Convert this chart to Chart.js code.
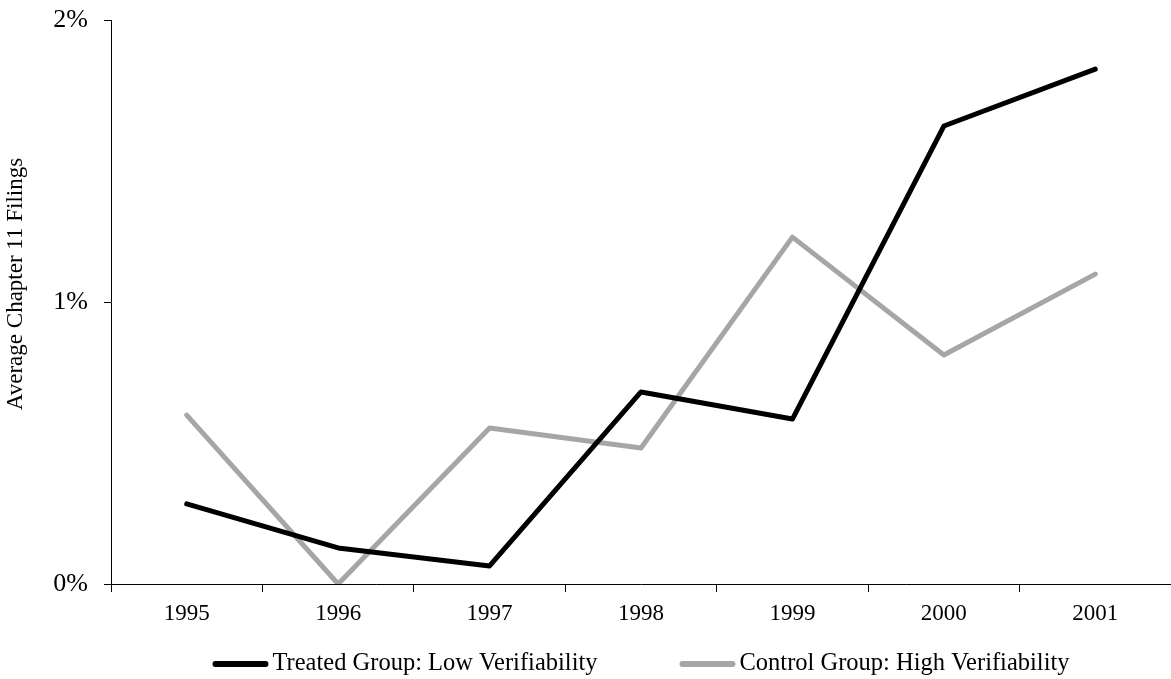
<!DOCTYPE html>
<html><head><meta charset="utf-8">
<script src="https://cdn.jsdelivr.net/npm/chart.js@4"></script>
<style>html,body{margin:0;padding:0;background:#fff}#wrap{width:1171px;height:679px}</style>
</head><body><div id="wrap"><canvas id="c" width="1171" height="679"></canvas></div>
<script>
const years = ['1995','1996','1997','1998','1999','2000','2001'];
const treated = [0.284, 0.128, 0.064, 0.681, 0.585, 1.624, 1.826];
const control = [0.599, 0.0, 0.553, 0.482, 1.230, 0.812, 1.099];
const yTicks = [0, 1, 2];
const seriesNames = ['Treated Group: Low Verifiability', 'Control Group: High Verifiability'];
const yTitle = 'Average Chapter 11 Filings';
const FONT = "'Liberation Serif', 'DejaVu Serif', serif";

const extrasPlugin = {
  id: 'extras',
  afterDraw(chart) {
    const ctx = chart.ctx;
    const ds = chart.data.datasets;
    ctx.save();
    ctx.font = '23px ' + FONT;
    ctx.fillStyle = '#000';
    ctx.textAlign = 'center';
    ctx.textBaseline = 'middle';
    ctx.translate(16, 284);
    ctx.rotate(-Math.PI / 2);
    ctx.fillText(yTitle, 0, 0);
    ctx.restore();

    ctx.save();
    ctx.font = '24.5px ' + FONT;
    const lineLen = 56, gap = 4, itemGap = 82;
    const widths = ds.map(d => lineLen + gap + ctx.measureText(d.label).width);
    const total = widths.reduce((a, b) => a + b, 0) + itemGap * (ds.length - 1);
    const ca = chart.chartArea;
    let x = (ca.left + ca.right) / 2 - total / 2;
    const y = 664;
    ds.forEach((d, i) => {
      ctx.strokeStyle = d.borderColor;
      ctx.lineWidth = 6;
      ctx.lineCap = 'round';
      ctx.beginPath();
      ctx.moveTo(x + 3, y);
      ctx.lineTo(x + lineLen - 3, y);
      ctx.stroke();
      ctx.fillStyle = '#000';
      ctx.textBaseline = 'middle';
      ctx.textAlign = 'left';
      ctx.fillText(d.label, x + lineLen + gap, y);
      x += widths[i] + itemGap;
    });
    ctx.restore();
  }
};

new Chart(document.getElementById('c'), {
  type: 'line',
  data: {
    labels: years,
    datasets: [
      { label: seriesNames[0], data: treated, borderColor: '#000000', backgroundColor: '#000000' },
      { label: seriesNames[1], data: control, borderColor: '#A6A6A6', backgroundColor: '#A6A6A6' }
    ]
  },
  options: {
    responsive: false,
    animation: false,
    devicePixelRatio: 1,
    layout: { padding: { top: 20, right: 0, left: 0, bottom: 0 } },
    elements: {
      line: { borderWidth: 5, tension: 0, borderCapStyle: 'round', borderJoinStyle: 'round' },
      point: { radius: 0, hoverRadius: 0 }
    },
    plugins: { legend: { display: false }, tooltip: { enabled: false } },
    scales: {
      x: {
        type: 'category',
        offset: true,
        grid: { offset: true, drawOnChartArea: false, color: '#000', tickLength: 8, tickWidth: 1 },
        border: { color: '#000', width: 1 },
        ticks: { color: '#000', font: { family: FONT, size: 23 }, padding: 8, maxRotation: 0 },
        afterFit(s) { s.height = 95; s.paddingLeft = 0; s.paddingRight = 0; }
      },
      y: {
        min: 0, max: 2,
        afterBuildTicks(s) { s.ticks = yTicks.map(v => ({ value: v })); },
        grid: { drawOnChartArea: false, color: '#000', tickLength: 7, tickWidth: 1 },
        border: { color: '#000', width: 1 },
        ticks: { color: '#000', font: { family: FONT, size: 26 }, padding: 16, callback: v => v + '%' },
        title: { display: false },
        afterFit(s) { s.width = 111; s.paddingTop = 0; s.paddingBottom = 0; }
      }
    }
  },
  plugins: [extrasPlugin]
});
</script></body></html>
